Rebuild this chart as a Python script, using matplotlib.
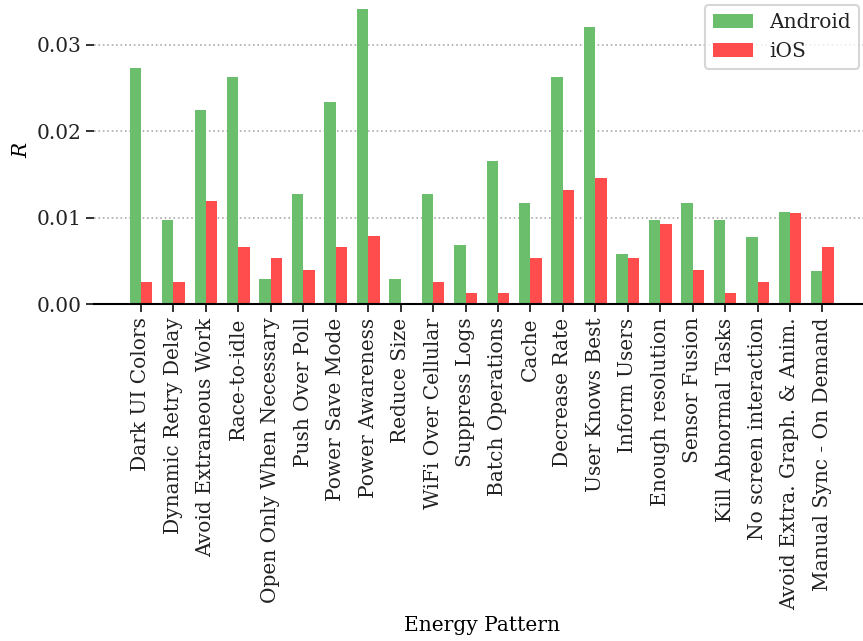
import matplotlib
matplotlib.use("Agg")
import matplotlib.pyplot as plt
import numpy as np

categories = ["Dark UI Colors", "Dynamic Retry Delay", "Avoid Extraneous Work",
              "Race-to-idle", "Open Only When Necessary", "Push Over Poll",
              "Power Save Mode", "Power Awareness", "Reduce Size",
              "WiFi Over Cellular", "Suppress Logs", "Batch Operations", "Cache",
              "Decrease Rate", "User Knows Best", "Inform Users",
              "Enough resolution", "Sensor Fusion", "Kill Abnormal Tasks",
              "No screen interaction", "Avoid Extra. Graph. & Anim.",
              "Manual Sync - On Demand"]
android = [0.0273, 0.0097, 0.0224, 0.0263, 0.0029, 0.0127, 0.0234, 0.0341,
           0.0029, 0.0127, 0.0068, 0.0166, 0.0117, 0.0263, 0.0321, 0.0058,
           0.0097, 0.0117, 0.0097, 0.0078, 0.0107, 0.0039]
ios = [0.0026, 0.0026, 0.0119, 0.0066, 0.0053, 0.0040, 0.0066, 0.0079,
       0.0, 0.0026, 0.0013, 0.0013, 0.0053, 0.0132, 0.0146, 0.0053,
       0.0093, 0.0040, 0.0013, 0.0026, 0.0106, 0.0066]

plt.rcParams['font.family'] = 'DejaVu Serif'
plt.rcParams['mathtext.fontset'] = 'dejavuserif'
plt.rcParams['font.size'] = 14.5
plt.rcParams['text.color'] = '#222222'
plt.rcParams['xtick.color'] = '#222222'
plt.rcParams['ytick.color'] = '#222222'

fig = plt.figure(figsize=(8.63, 6.41), dpi=100)
ax = fig.add_axes([0.1094, 0.5253, 0.8976, 0.4833])

x = np.arange(len(categories))
w = 0.35
ax.bar(x - w / 2, android, w, color='#6BBE6B', label='Android', zorder=2)
ax.bar(x + w / 2, ios, w, color='#FF4C4C', label='iOS', zorder=2)

ax.set_xticks(x)
ax.set_xticklabels(categories, rotation=90)
ax.set_yticks([0.0, 0.01, 0.02, 0.03])
ax.set_yticklabels(["0.00", "0.01", "0.02", "0.03"])
ax.yaxis.grid(True, linestyle=':', color='#aaaaaa', linewidth=1.2, zorder=0)
ax.set_axisbelow(True)
for s in ['top', 'right', 'left']:
    ax.spines[s].set_visible(False)
ax.spines['bottom'].set_linewidth(1.5)
ax.tick_params(axis='both', length=6, width=1.3)
ax.set_ylabel('$R$')
ax.set_xlabel('Energy Pattern')
leg = ax.legend(loc='upper right', fancybox=True, edgecolor='#cccccc', borderaxespad=0.5)
leg.get_frame().set_linewidth(1.5)

fig.savefig('out.png', dpi=100)
